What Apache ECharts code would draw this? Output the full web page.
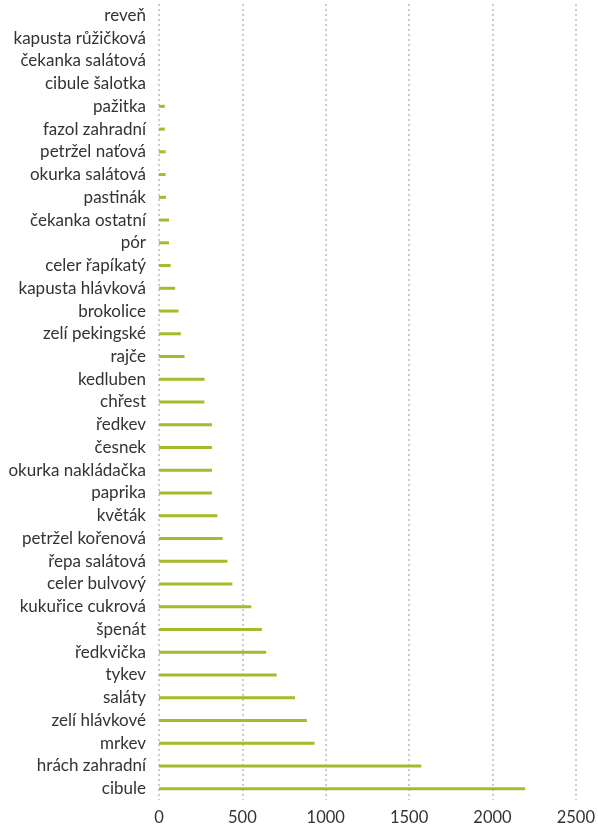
<!DOCTYPE html>
<html><head><meta charset="utf-8">
<script src="https://cdn.jsdelivr.net/npm/echarts@6/dist/echarts.min.js"></script>
<style>html,body{margin:0;padding:0;background:#fff}#c{width:598px;height:827px}</style>
</head><body><div id="c"></div>
<script>
const categories = ["reveň","kapusta růžičková","čekanka salátová","cibule šalotka","pažitka","fazol zahradní","petržel naťová","okurka salátová","pastinák","čekanka ostatní","pór","celer řapíkatý","kapusta hlávková","brokolice","zelí pekingské","rajče","kedluben","chřest","ředkev","česnek","okurka nakládačka","paprika","květák","petržel kořenová","řepa salátová","celer bulvový","kukuřice cukrová","špenát","ředkvička","tykev","saláty","zelí hlávkové","mrkev","hrách zahradní","cibule"];
const values = [0,0,0,0,35,35,40,40,42,60,60,70,97,117,131,153,273,272,318,318,318,318,350,382,410,440,553,617,643,706,816,887,933,1573,2196];
const xTicks = [0,500,1000,1500,2000,2500];

const chart = echarts.init(document.getElementById('c'));
chart.setOption({
  animation:false,
  grid:{left:159,right:20,top:4,bottom:27,containLabel:false},
  xAxis:{type:'value',min:xTicks[0],max:xTicks[xTicks.length-1],interval:500,
    axisLine:{show:false},axisTick:{show:false},
    axisLabel:{color:'#333',fontSize:16.5,fontFamily:'Lato, sans-serif',margin:9,formatter:v=>String(v)},
    splitLine:{show:true,lineStyle:{type:[2,3],color:'#cccccc',width:2}}},
  yAxis:{type:'category',data:categories,inverse:true,
    axisLine:{show:false},axisTick:{show:false},
    axisLabel:{color:'#333',fontSize:17,fontFamily:'Lato, sans-serif',margin:13},
    splitLine:{show:false}},
  series:[{type:'bar',data:values,barWidth:3,itemStyle:{color:'#a8b92a'}}]
});
</script></body></html>
